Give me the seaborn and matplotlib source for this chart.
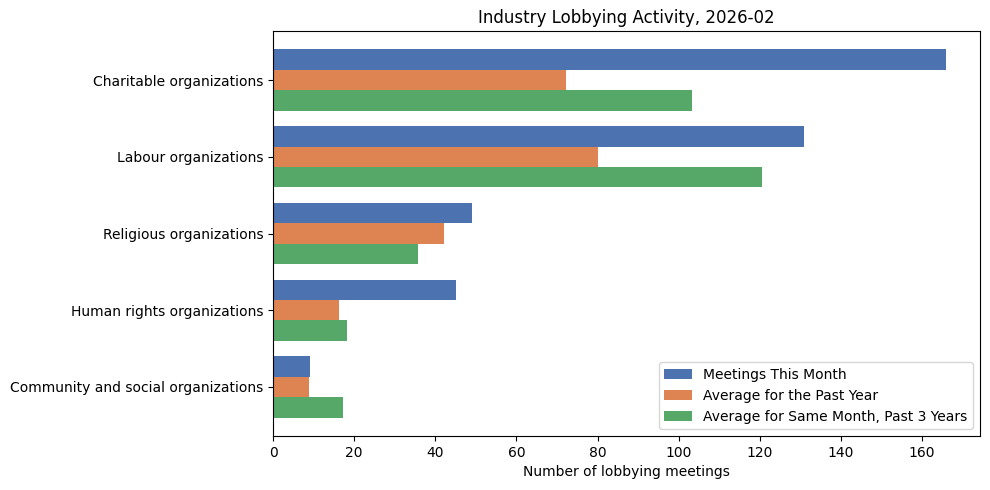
import matplotlib
matplotlib.use("Agg")
import matplotlib.pyplot as plt
import pandas as pd
import seaborn as sns

CATEGORIES = [
    "Charitable organizations",
    "Labour organizations",
    "Religious organizations",
    "Human rights organizations",
    "Community and social organizations",
]
SERIES = [
    "Meetings This Month",
    "Average for the Past Year",
    "Average for Same Month, Past 3 Years",
]
THIS_MONTH = [166, 131, 49, 45, 9]
PAST_YEAR = [72.2, 80.0, 42.2, 16.2, 8.8]
SAME_MONTH_3Y = [103.4, 120.5, 35.8, 18.2, 17.2]

rows = []
for name, vals in zip(SERIES, [THIS_MONTH, PAST_YEAR, SAME_MONTH_3Y]):
    for cat, v in zip(CATEGORIES, vals):
        rows.append({"category": cat, "series": name, "value": v})
df = pd.DataFrame(rows)

fig, ax = plt.subplots(figsize=(9.9, 4.9), dpi=100)
sns.barplot(data=df, x="value", y="category", hue="series", orient="h",
            palette=sns.color_palette("deep", 3), saturation=1,
            order=CATEGORIES, hue_order=SERIES, ax=ax, linewidth=0)

n = len(CATEGORIES)
ax.set_ylim(n - 0.6 + 0.24, -0.4 - 0.24)
ax.set_xlim(0, max(THIS_MONTH) * 1.05)
ax.set_xlabel("Number of lobbying meetings")
ax.set_ylabel("")
ax.set_title("Industry Lobbying Activity, 2026-02")
ax.legend(loc="lower right", title=None)
fig.subplots_adjust(left=0.2758, right=0.9899, top=0.9367, bottom=0.1102)
fig.savefig("out.png", dpi=100)
